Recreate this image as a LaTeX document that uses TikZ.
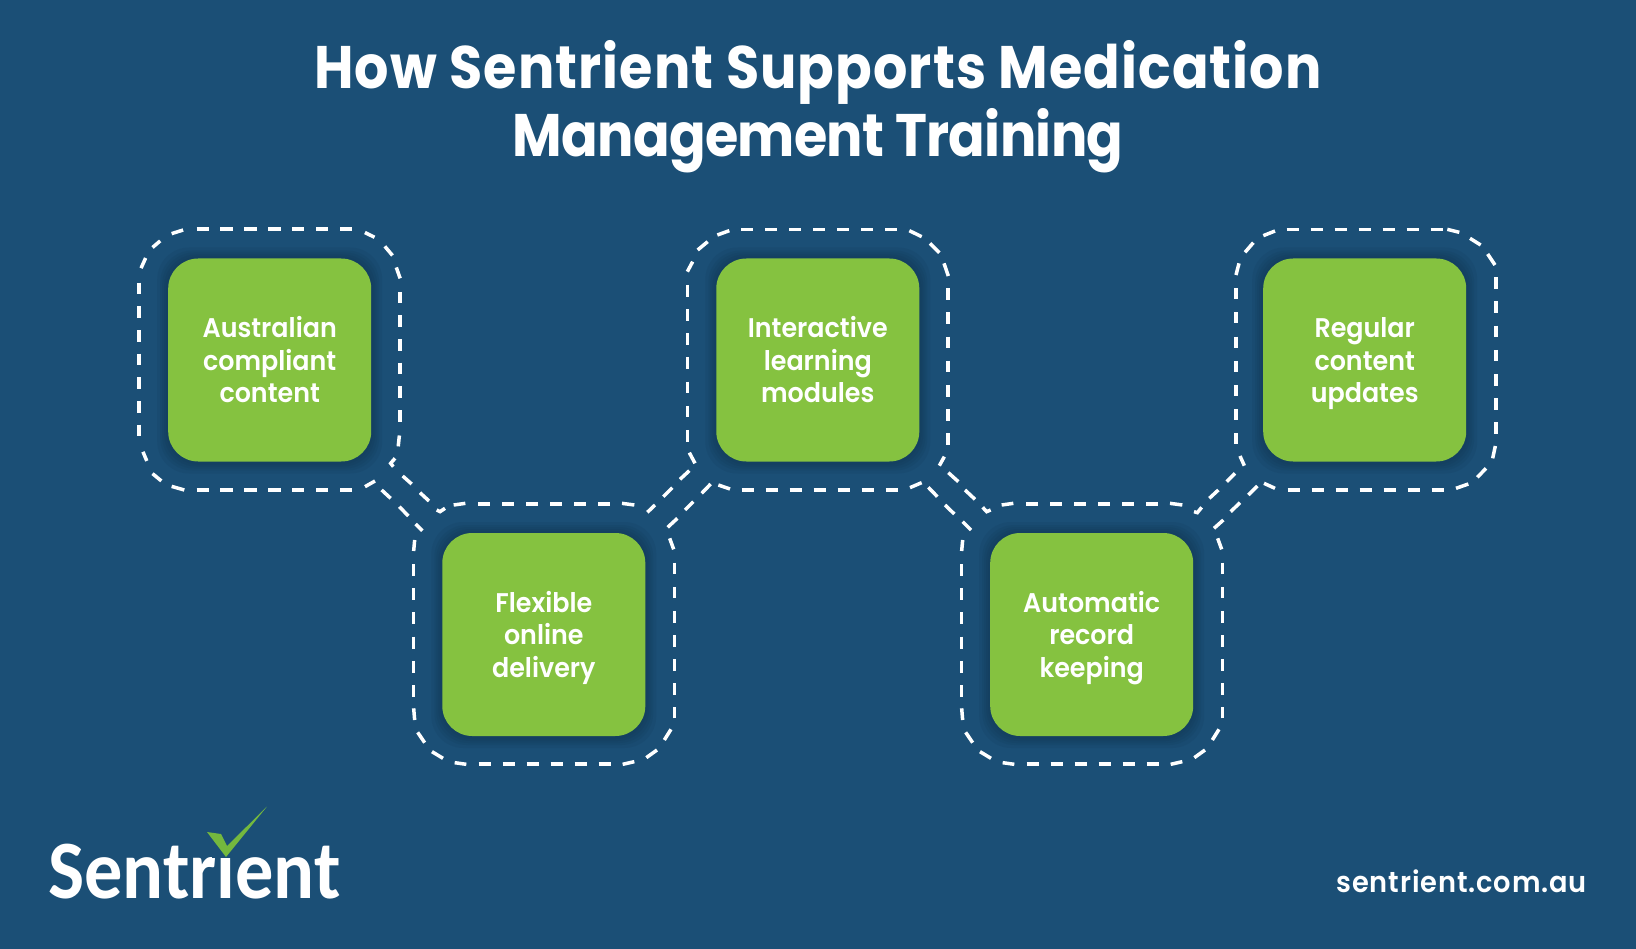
\documentclass[tikz,border=0pt]{standalone}
\usepackage{fontspec}
\setmainfont{Poppins}
\newfontfamily\heavy{Poppins Bold}[FakeStretch=0.9]
\newfontfamily\semi{Poppins SemiBold}[FakeStretch=0.94]
\newfontfamily\logofont{Carlito Bold}[FakeStretch=0.92]
\definecolor{bgblue}{HTML}{1B4F76}
\definecolor{boxgreen}{HTML}{85C240}
\definecolor{chk}{HTML}{74B83E}
\definecolor{halo}{HTML}{0F2F47}
\newcommand{\firstline}{\rule{0pt}{28pt}}
\newcommand{\lastline}{\rule[-7.3pt]{0pt}{7.3pt}}
\tikzset{
  x=1pt,y=-1pt,
  greenbox/.style={fill=boxgreen,rounded corners=30pt,minimum width=203pt,minimum height=203pt,inner sep=0pt,
    text=white,align=center,font=\semi\fontsize{27}{32.4}\selectfont},
  dashseg/.style={draw=white,line width=3.5pt},
  titletext/.style={text=white,inner sep=0pt,font=\heavy\fontsize{60}{68}\selectfont,align=center},
  crop3/.style={x=0.33333pt,y=-0.33333pt},
}
\newcommand{\halo}[1]{%
  \foreach \g in {11,8,6,4,2}{
    \fill[halo,opacity=0.10,rounded corners=32pt] ([shift={(-101.5-\g,-101.5-\g)}]#1) rectangle ([shift={(101.5+\g,101.5+\g+1)}]#1);
  }}
% free dashes: x1/y1/x2/y2
\newcommand{\dashlist}[1]{\foreach \a/\b/\c/\d in {#1}{\draw[dashseg] (\a,\b) -- (\c,\d);}}
% runs along a straight side: fixed y, start, period, length, last index
\newcommand{\hrun}[5]{\foreach \i in {0,...,#5}{\draw[dashseg] ({#2+#3*\i},#1) -- ({#2+#3*\i+#4},#1);}}
\newcommand{\vrun}[5]{\foreach \i in {0,...,#5}{\draw[dashseg] (#1,{#2+#3*\i}) -- (#1,{#2+#3*\i+#4});}}
% the outline kit of a lower box
\newcommand{\lowerkit}{%
  \hrun{42}{228}{72}{37}{5}
  \vrun{35}{222}{72.7}{36}{5}
  \hrun{822}{230}{72}{37}{5}
  \vrun{817}{218}{72.4}{35}{5}
  \dashlist{155/45/190/40,660/40/697/45,38/150/35/183,35/655/38/690,47/727/68/758,90/785/123/805,158/818/193/823,
    662/823/697/815,733/803/765/780,787/750/807/718,817/685/817/650,803/145/815/178}
}
\begin{document}
\begin{tikzpicture}
\fill[bgblue] (0,0) rectangle (1636,949);
\useasboundingbox (0,0) rectangle (1636,949);

\node[titletext,anchor=base] (title1) at (818,88.5) {\addfontfeature{LetterSpace=1.8}How Sentrient Supports Medication};
\node[titletext,anchor=base] (title2) at (818,156.5) {\addfontfeature{LetterSpace=-1.1}Management Training};

\coordinate (c1) at (269.7,360);
\coordinate (c2) at (543.8,634.5);
\coordinate (c3) at (817.8,360);
\coordinate (c4) at (1091.7,634.5);
\coordinate (c5) at (1364.7,360);

\foreach \c in {c1,c2,c3,c4,c5}{\halo{\c}}

\node[greenbox] (b1) at (c1) {\firstline Australian\\compliant\\content\lastline};
\node[greenbox] (b2) at (c2) {\firstline Flexible\\online\\delivery\lastline};
\node[greenbox] (b3) at (c3) {\firstline Interactive\\learning\\modules\lastline};
\node[greenbox] (b4) at (c4) {\firstline Automatic\\record\\keeping\lastline};
\node[greenbox] (b5) at (c5) {\firstline Regular\\content\\updates\lastline};

% outline of box 1
\begin{scope}[shift={(120,210)},x=0.38270pt,y=-0.36364pt]
  \hrun{52}{200}{62.5}{32}{6}
  \hrun{770}{200}{62.5}{32}{6}
  \vrun{50}{200}{65}{32}{6}
  \vrun{731}{225}{65}{32}{5}
  \dashlist{55/160/67/132,85/103/105/85,135/65/165/55,640/62/665/75,692/100/712/125,722/158/732/188,
    60/665/70/690,85/725/108/745,135/760/168/770,730/620/727/650}
\end{scope}
% outline of box 3
\begin{scope}[shift={(680,220)},crop3]
  \hrun{28}{183}{72}{37}{6}
  \hrun{810}{185}{72}{37}{6}
  \vrun{22}{195}{72.5}{35}{6}
  \vrun{804}{205}{72.5}{35}{6}
  \dashlist{22/155/38/125,53/90/83/65,112/45/148/32,688/32/725/50,750/70/778/98,792/130/805/168,
    28/698/45/730,115/795/150/807,793/710/778/737,690/803/725/788}
\end{scope}
% outline of box 5
\begin{scope}[shift={(1220,220)},crop3]
  \hrun{28}{200}{72}{37}{6}
  \hrun{810}{203}{72}{37}{6}
  \vrun{828}{172}{72.5}{35}{6}
  \vrun{48}{205}{72.5}{33}{6}
  \dashlist{682/28/718/37,750/55/782/75,803/102/825/135,826/678/818/715,798/745/772/772,745/792/708/805,
    132/790/165/805,60/708/73/737,48/165/57/130,75/97/100/68,130/47/165/33}
\end{scope}
% outlines of boxes 2 and 4
\begin{scope}[shift={(402,490)},crop3]\lowerkit\end{scope}
\begin{scope}[shift={(950,490)},crop3]\lowerkit\end{scope}

% channel box 1 to box 2
\begin{scope}[shift={(350,440)},crop3]
  \draw[dashseg] (135,55) -- (122,70) -- (130,80);
  \draw[dashseg] (260,210) -- (270,215) -- (285,205);
  \dashlist{158/108/185/132,210/158/237/183,45/140/75/123,95/150/122/175,148/200/175/228,197/252/217/272}
\end{scope}
% channel box 2 to box 3
\begin{scope}[shift={(620,440)},crop3]
  \dashlist{82/217/105/195,130/170/157/143,180/118/208/92,143/262/172/235,195/210/220/185,245/160/272/132}
\end{scope}
% channels box 3 to box 4, box 4 to box 5
\begin{scope}[shift={(920,430)},crop3]
  \draw[dashseg] (188,232) -- (200,245) -- (212,240);
  \draw[dashseg] (822,245) -- (832,248) -- (845,232);
  \dashlist{85/128/115/155,135/180/165/208,25/172/52/200,75/225/103/252,128/275/153/300,
    868/205/895/180,920/155/945/130,882/295/910/270,932/245/960/218,985/195/1012/168}
\end{scope}

% logo
\node[anchor=base west,inner sep=0pt,text=white,font=\logofont\fontsize{83}{83}\selectfont] (logo) at (48,898) {Sentrient};
\fill[bgblue] (212,826) rectangle (250,857.5);
\fill[chk] (207,832) -- (221,834) -- (227,846) -- (267,806.5) -- (226,857) -- cycle;

\node[anchor=base east,inner sep=0pt,text=white,font=\semi\fontsize{29}{30}\selectfont] (url) at (1587,892) {\addfontfeature{LetterSpace=3}sentrient.com.au};
\end{tikzpicture}
\end{document}
